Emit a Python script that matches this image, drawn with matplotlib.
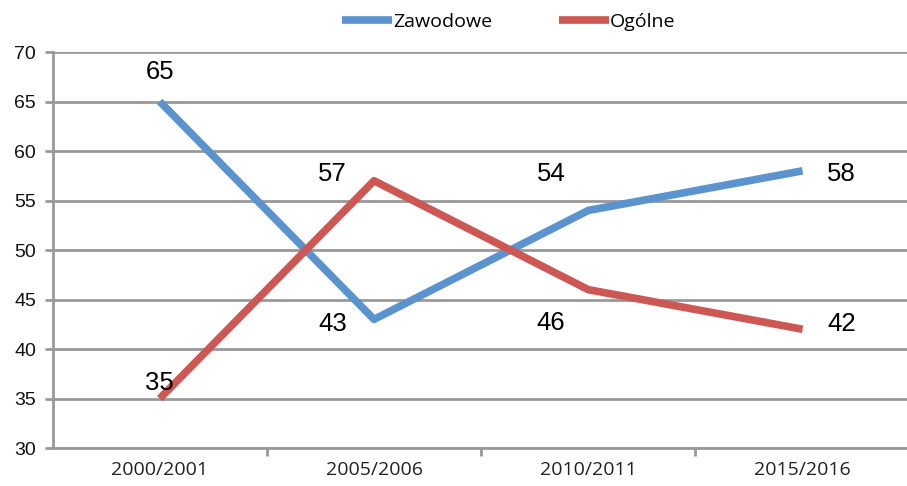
import matplotlib.pyplot as plt

# Data
years = ['2000/2001', '2005/2006', '2010/2011', '2015/2016']
zawodowe = [65, 43, 54, 58]
ogolne = [35, 57, 46, 42]
yticks = list(range(30, 71, 5))

# label offsets (points) for value annotations
zaw_off = [(0, 21), (-30, -3), (-27, 26), (28, -2)]
ogo_off = [(0, 11.5), (-30, 5), (-27, -24), (28, 4)]

fig = plt.figure(figsize=(9.07, 4.86), dpi=100)
ax = fig.add_axes([0.058, 0.078, 0.945, 0.815])

x = range(len(years))
ax.plot(x, zawodowe, color='#5b93cf', lw=5.5, label='Zawodowe', solid_capstyle='butt')
ax.plot(x, ogolne, color='#cd5853', lw=5.5, label='Ogólne', solid_capstyle='butt')

for i, v in enumerate(zawodowe):
    ax.annotate(str(v), (i, v), xytext=zaw_off[i], textcoords='offset points',
                ha='center', va='center', fontsize=18.5, family='Liberation Sans')
for i, v in enumerate(ogolne):
    ax.annotate(str(v), (i, v), xytext=ogo_off[i], textcoords='offset points',
                ha='center', va='center', fontsize=18.5, family='Liberation Sans')

ax.set_xlim(-0.5, 3.5)
ax.set_ylim(30, 70)
ax.set_yticks(yticks, labels=[str(t) for t in yticks], fontsize=14,
              family='Liberation Sans', color='#111111')
ax.set_xticks(x, labels=years, fontsize=14, family='Open Sans', color='#222222')
ax.set_xticks([0.5, 1.5, 2.5], minor=True)
ax.tick_params(axis='x', which='major', length=0, pad=9)
ax.tick_params(axis='x', which='minor', length=6, color='#999999', width=2, direction='out')
ax.tick_params(axis='y', length=6, color='#999999', width=2, pad=6)

ax.grid(axis='y', color='#999999', lw=2)
ax.set_axisbelow(True)
for s in ['top', 'right']:
    ax.spines[s].set_visible(False)
ax.spines['left'].set_color('#999999')
ax.spines['left'].set_linewidth(2)
ax.spines['bottom'].set_color('#999999')
ax.spines['bottom'].set_linewidth(2)

leg = fig.legend(loc='center', bbox_to_anchor=(0.561, 0.955), ncol=2, frameon=False,
                 handlelength=2.6, handletextpad=0.05, columnspacing=3.4,
                 prop={'family': 'Open Sans', 'size': 14})

fig.savefig('out.png', dpi=100)
